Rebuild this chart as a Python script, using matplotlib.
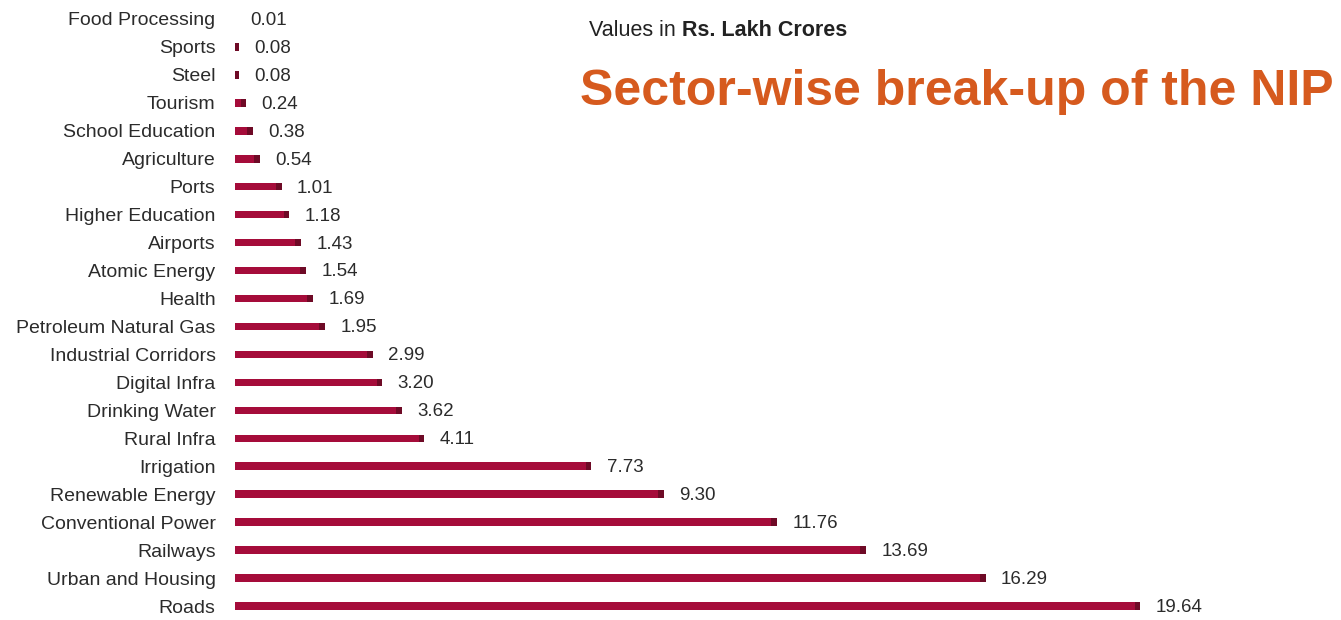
import matplotlib
matplotlib.use("Agg")
from matplotlib import pyplot as plt

# sectors from top to bottom, values in Rs. Lakh Crores
sectors = ["Food Processing", "Sports", "Steel", "Tourism", "School Education",
           "Agriculture", "Ports", "Higher Education", "Airports", "Atomic Energy",
           "Health", "Petroleum Natural Gas", "Industrial Corridors", "Digital Infra",
           "Drinking Water", "Rural Infra", "Irrigation", "Renewable Energy",
           "Conventional Power", "Railways", "Urban and Housing", "Roads"]
values = [0.01, 0.08, 0.08, 0.24, 0.38, 0.54, 1.01, 1.18, 1.43, 1.54, 1.69, 1.95,
          2.99, 3.20, 3.62, 4.11, 7.73, 9.30, 11.76, 13.69, 16.29, 19.64]

plt.rcParams['font.family'] = ['Liberation Sans', 'DejaVu Sans']

fig = plt.figure(figsize=(13.41, 6.2), dpi=100)
ax = fig.add_axes([235 / 1341, 0.0, 1 - 235 / 1341, 1 - 5 / 620])

ypos = list(range(len(sectors)))
ax.barh(ypos, values, height=0.27, color='#A50C3A', edgecolor='none')
# darker tip at the end of each bar
tip = 0.12
ax.barh(ypos, [min(tip, v) for v in values],
        left=[v - min(tip, v) for v in values],
        height=0.27, color='#6E0A26', edgecolor='none')

for y, v in zip(ypos, values):
    ax.annotate("%.2f" % v, (v, y), xytext=(11, -1), textcoords='offset points',
                va='center', ha='left', fontsize=13.5, color='#2b2b2b')

ax.set_xlim(0, 24)
ax.set_ylim(len(sectors) - 0.5, -0.5)
ax.set_yticks(ypos)
ax.set_yticklabels(sectors, fontsize=14, color='#2b2b2b')
ax.tick_params(axis='y', length=0, pad=14)
ax.set_xticks([])
for s in ax.spines.values():
    s.set_visible(False)

# header texts
t1 = fig.text(589 / 1341, 1 - 30 / 620, "Values in ", fontsize=15.5,
              color='#222222', va='center', ha='left')
fig.canvas.draw()
bb = t1.get_window_extent()
fig.text(bb.x1 / fig.bbox.width, 1 - 30 / 620, "Rs. Lakh Crores", fontsize=15.5,
         fontweight='bold', color='#222222', va='center', ha='left')

fig.text(580 / 1341, 1 - 92 / 620, "Sector-wise break-up of the NIP", fontsize=36,
         fontweight='bold', color='#D65A1E', va='center', ha='left')

plt.savefig("out.png", dpi=100)
